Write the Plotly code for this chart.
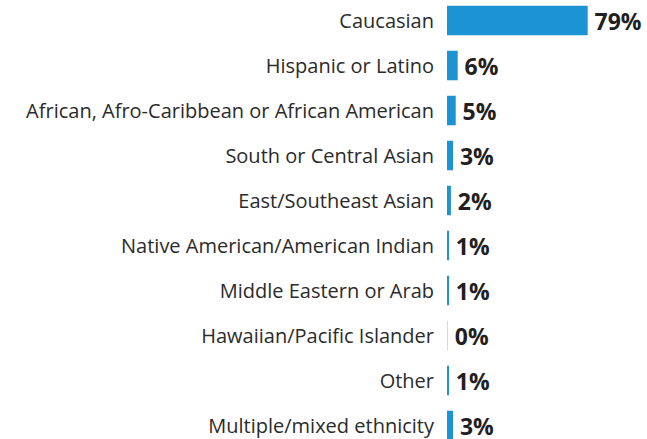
import plotly.graph_objects as go

categories = [
    "Caucasian",
    "Hispanic or Latino",
    "African, Afro-Caribbean or African American",
    "South or Central Asian",
    "East/Southeast Asian",
    "Native American/American Indian",
    "Middle Eastern or Arab",
    "Hawaiian/Pacific Islander",
    "Other",
    "Multiple/mixed ethnicity",
]
values = [79, 6, 4.9, 3.4, 2.2, 1.1, 1.1, 0.3, 1.1, 3.4]
value_labels = ["79%", "6%", "5%", "3%", "2%", "1%", "1%", "0%", "1%", "3%"]
bar_colors = ["#1c93d2"] * 7 + ["#d9d9d9"] + ["#1c93d2"] * 2

fig = go.Figure(
    go.Bar(
        x=values,
        y=categories,
        orientation="h",
        marker=dict(color=bar_colors, line=dict(width=0)),
        text=value_labels,
        texttemplate="\u2009%{text}",
        textposition="outside",
        constraintext="none",
        cliponaxis=False,
        textfont=dict(family="Open Sans", size=23, color="#231f20", weight="bold"),
        hoverinfo="skip",
    )
)

fig.update_layout(
    width=647,
    height=439,
    margin=dict(l=447, r=0, t=0, b=0),
    paper_bgcolor="white",
    plot_bgcolor="white",
    bargap=0.344,
    showlegend=False,
    xaxis=dict(
        range=[0, 112.3],
        visible=False,
        fixedrange=True,
    ),
    yaxis=dict(
        type="category",
        categoryorder="array",
        categoryarray=categories,
        range=[9.3, -0.456],
        showgrid=False,
        zeroline=False,
        showline=False,
        ticks="",
        ticklabelstandoff=12,
        tickfont=dict(family="Open Sans", size=20, color="#2b2b2b"),
        fixedrange=True,
    ),
)

fig.write_html(
    "out.html",
    config={"displayModeBar": False},
    post_script="document.body.style.margin='0';document.body.style.overflow='hidden';",
)
